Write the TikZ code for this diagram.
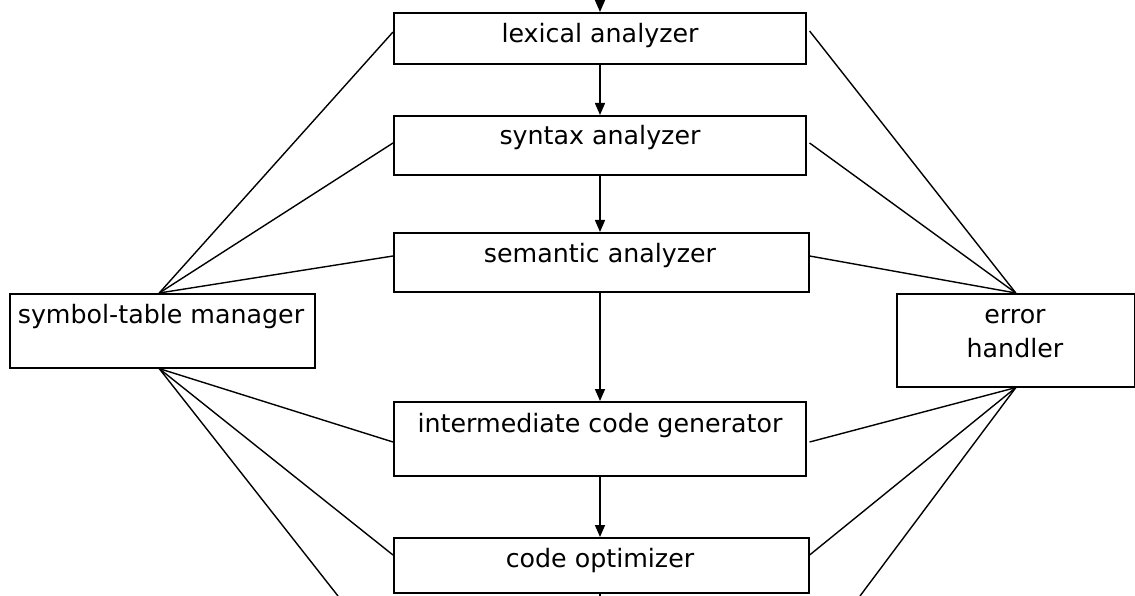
\documentclass[tikz,border=0pt]{standalone}
\usepackage{fontspec}
\setmainfont{DejaVu Sans}
\usetikzlibrary{arrows.meta,calc}
\tikzset{
  boxnode/.style={draw, line width=1.6pt, inner sep=0pt, anchor=north west},
  lbl/.style={anchor=base, inner sep=0pt, font=\fontsize{25.3}{29}\selectfont},
  flow/.style={line width=1.5pt, -{Triangle[length=12pt,width=10pt]}},
  link/.style={line width=1.4pt},
}
\begin{document}
\begin{tikzpicture}[x=1pt,y=-1pt]
\useasboundingbox (0,0) rectangle (1135,596);
% boxes
\node[boxnode, minimum width=412pt, minimum height=51pt] (lex) at (393,12) {};
\node[boxnode, minimum width=412pt, minimum height=59pt] (syn) at (393,115) {};
\node[boxnode, minimum width=415pt, minimum height=59pt] (sem) at (393,232) {};
\node[boxnode, minimum width=412pt, minimum height=74pt] (icg) at (393,401) {};
\node[boxnode, minimum width=415pt, minimum height=55pt] (opt) at (393,537) {};
\node[boxnode, minimum width=305pt, minimum height=74pt] (sym) at (9,293) {};
\node[boxnode, minimum width=238pt, minimum height=93pt] (err) at (896,293) {};
% labels
\node[lbl] (lexl) at (600,43) {lexical analyzer};
\node[lbl] (synl) at (600,145) {syntax analyzer};
\node[lbl] (seml) at (600,262) {semantic analyzer};
\node[lbl] (icgl) at (600,432) {intermediate code generator};
\node[lbl] (optl) at (600,567) {code optimizer};
\node[lbl] (syml) at (161,323) {symbol-table manager};
\node[lbl] (errl1) at (1015,323) {error};
\node[lbl] (errl2) at (1015,357) {handler};
% free ends
\coordinate (top) at (600,0);
\coordinate (bot) at (600,596);
\coordinate (lbot) at (338,596);
\coordinate (rbot) at (860,596);
% flow arrows
\draw[flow] (top) -- (lex.north -| top);
\draw[flow] (lex.south -| top) -- (syn.north -| top);
\draw[flow] (syn.south -| top) -- (sem.north -| top);
\draw[flow] (sem.south -| top) -- (icg.north -| top);
\draw[flow] (icg.south -| top) -- (opt.north -| top);
\draw[link] (opt.south -| top) -- (bot);
% symbol-table links
\coordinate (st) at ($(sym.north west)!0.49!(sym.north east)$);
\coordinate (sb) at ($(sym.south west)!0.49!(sym.south east)$);
\draw[link] (st) -- ($(lex.north west)+(0,20)$);
\draw[link] (st) -- ($(syn.north west)+(0,28)$);
\draw[link] (st) -- ($(sem.north west)+(0,24)$);
\draw[link] (sb) -- ($(icg.north west)+(0,41)$);
\draw[link] (sb) -- ($(opt.north west)+(0,18)$);
\draw[link] (sb) -- (lbot);
% error handler links
\draw[link] (err.north) -- ($(lex.north east)+(3,19)$);
\draw[link] (err.north) -- ($(syn.north east)+(3,28)$);
\draw[link] (err.north) -- ($(sem.north east)+(0,24)$);
\draw[link] (err.south) -- ($(icg.north east)+(3,41)$);
\draw[link] (err.south) -- ($(opt.north east)+(0,18)$);
\draw[link] (err.south) -- (rbot);
\end{tikzpicture}
\end{document}
